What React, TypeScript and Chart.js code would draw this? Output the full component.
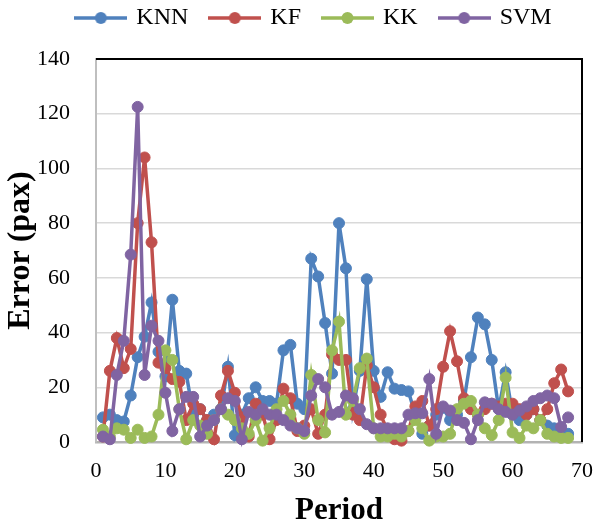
import React, { useEffect, useRef } from "react";
import { Chart, registerables } from "chart.js";

Chart.register(...registerables);

// ---- data ----
const PERIODS = [
  1, 2, 3, 4, 5, 6, 7, 8, 9, 10, 11, 12, 13, 14, 15, 16, 17, 18, 19, 20,
  21, 22, 23, 24, 25, 26, 27, 28, 29, 30, 31, 32, 33, 34, 35, 36, 37, 38, 39, 40,
  41, 42, 43, 44, 45, 46, 47, 48, 49, 50, 51, 52, 53, 54, 55, 56, 57, 58, 59, 60,
  61, 62, 63, 64, 65, 66, 67, 68,
];

const KNN = [
  9, 10, 8, 7.5, 17, 31, 38.5, 51, 33, 24,
  52, 26, 25, 10, 12, 8, 10, 12, 27.5, 2.5,
  10, 16, 20, 15, 15, 14, 33.5, 35.5, 14, 12,
  67, 60.5, 43.5, 25, 80, 63.5, 12, 26, 59.5, 26,
  16.5, 25.5, 19.5, 19, 18.5, 10, 3, 6, 10, 12.5,
  8, 10, 15, 31, 45.5, 43, 30, 12, 25.5, 10,
  8, 10, 12, 8, 6, 5, 4, 3,
];

const KF = [
  2, 26, 38, 27, 34, 80, 104, 73, 29, 27,
  23, 22, 8, 14, 12, 8, 1, 17, 26, 18,
  9, 2, 14, 10, 1, 8, 19.5, 16, 4, 6,
  12, 3, 10, 32, 30, 30, 10, 8, 28, 20,
  10, 4, 1, 0.5, 4, 13, 15, 6, 12, 27.5,
  40.5, 29.5, 16, 12, 10, 12, 14, 13, 14, 14,
  12, 10, 12, 8, 12, 21.5, 26.5, 18.5,
];

const KK = [
  4.5, 2, 5, 4.5, 1.5, 4.5, 1.5, 2, 10, 33.5,
  30, 12, 1, 8, 6, 3, 8, 12, 10, 8,
  5, 3, 8, 0.5, 5, 12, 15, 10, 5, 3,
  24.5, 8, 3.5, 33.5, 44, 10, 15, 27, 30.5, 5,
  2, 2, 3, 2, 4, 8, 5, 0.5, 2, 2,
  3, 12, 14, 15, 10, 5, 2.5, 8, 23.5, 3.5,
  1.5, 6, 5, 8, 3, 2, 1.5, 1.5,
];

const SVM = [
  2, 1, 24.5, 37, 68.5, 122.5, 24.5, 42.5, 37, 18,
  4, 12, 16.5, 16.5, 2, 6, 8, 12, 16, 15,
  1, 11, 10, 12, 10, 10, 8, 6, 5, 4,
  17, 23, 20, 10, 11, 17, 16, 12, 6.5, 5,
  5, 5, 5, 5, 10, 10.5, 10.5, 23, 3, 13,
  11.5, 8, 7, 1, 8, 14.5, 14, 12, 11, 10,
  11.5, 13, 15, 16, 17, 16, 5.5, 9,
];

const SERIES_NAMES = ["KNN", "KF", "KK", "SVM"];
const SERIES_VALUES = [KNN, KF, KK, SVM];
const SERIES_COLORS = ["#4F81BD", "#C0504D", "#9BBB59", "#8064A2"];

const X_MIN = 0;
const X_MAX = 70;
const X_STEP = 10;
const Y_MIN = 0;
const Y_MAX = 140;
const Y_STEP = 20;
const X_TITLE = "Period";
const Y_TITLE = "Error (pax)";

const FONT = "'Liberation Serif', 'Times New Roman', Times, serif";

function makeLegendIcon(color: string): HTMLCanvasElement {
  const c = document.createElement("canvas");
  c.width = 53;
  c.height = 14;
  const g = c.getContext("2d")!;
  g.strokeStyle = color;
  g.lineWidth = 3.5;
  g.beginPath();
  g.moveTo(0, 7);
  g.lineTo(53, 7);
  g.stroke();
  g.fillStyle = color;
  g.beginPath();
  g.arc(26.5, 7, 6, 0, Math.PI * 2);
  g.fill();
  return c;
}

export default function App() {
  const ref = useRef<HTMLCanvasElement>(null);

  useEffect(() => {
    document.body.style.margin = "0";
    if (!ref.current) return;

    const icons = SERIES_COLORS.map(makeLegendIcon);

    const datasets = SERIES_NAMES.map((name, si) => ({
      label: name,
      data: PERIODS.map((p, i) => ({ x: p, y: SERIES_VALUES[si][i] })),
      borderColor: SERIES_COLORS[si],
      backgroundColor: SERIES_COLORS[si],
      pointBackgroundColor: SERIES_COLORS[si],
      pointBorderColor: SERIES_COLORS[si],
      borderWidth: 3.5,
      pointRadius: 5.5,
      pointBorderWidth: 1,
      tension: 0,
      clip: false as any,
      order: SERIES_NAMES.length - si,
    }));

    const framePlugin = {
      id: "frame",
      beforeDatasetsDraw(chart: any) {
        const { ctx, chartArea } = chart;
        const { left, top, right, bottom } = chartArea;
        ctx.save();
        ctx.strokeStyle = "#000";
        ctx.lineWidth = 2;
        ctx.beginPath();
        ctx.moveTo(left, top);
        ctx.lineTo(right, top);
        ctx.lineTo(right, bottom);
        ctx.stroke();
        ctx.restore();
      },
    };

    const legendShift = {
      id: "legendShift",
      afterLayout(chart: any) {
        const l = chart.legend;
        if (l) {
          l.left += 21;
          l.right += 21;
          l.top -= 19;
          l.bottom -= 19;
        }
      },
    };

    const chart = new Chart(ref.current, {
      type: "line",
      data: { datasets: datasets as any },
      plugins: [framePlugin, legendShift],
      options: {
        responsive: false,
        animation: false,
        devicePixelRatio: 1,
        layout: { padding: { left: 5, right: 11, top: 2, bottom: 0 } },
        plugins: {
          tooltip: { enabled: false },
          legend: {
            position: "top",
            labels: {
              usePointStyle: true,
              pointStyleWidth: 47,
              padding: 23,
              color: "#000",
              font: { family: FONT, size: 24 },
              generateLabels: (ch: any) =>
                ch.data.datasets.map((ds: any, i: number) => ({
                  text: ds.label,
                  pointStyle: icons[i],
                  fillStyle: ds.borderColor,
                  strokeStyle: ds.borderColor,
                  lineWidth: 0,
                  hidden: false,
                  datasetIndex: i,
                  fontColor: "#000",
                })),
            },
          },
        },
        scales: {
          x: {
            type: "linear",
            min: X_MIN,
            max: X_MAX,
            afterFit: (s: any) => {
              s.height = 86;
              s.paddingRight = 0;
              s.paddingLeft = 0;
            },
            ticks: {
              stepSize: X_STEP,
              padding: 16,
              color: "#000",
              font: { family: FONT, size: 22 },
            },
            grid: { display: false, drawTicks: false },
            border: { display: true, color: "#b3b3b3", width: 2.5 },
            title: {
              display: true,
              text: X_TITLE,
              color: "#000",
              font: { family: FONT, size: 31, weight: "bold", lineHeight: 1 },
              padding: { top: 0, bottom: 1.5 },
            },
          },
          y: {
            type: "linear",
            min: Y_MIN,
            max: Y_MAX,
            afterFit: (s: any) => {
              s.width = 91;
            },
            ticks: {
              stepSize: Y_STEP,
              padding: 26,
              color: "#000",
              font: { family: FONT, size: 22 },
            },
            grid: { color: "#d9d9d9", lineWidth: 1.5, drawTicks: false },
            border: { display: true, color: "#bfbfbf", width: 2 },
            title: {
              display: true,
              text: Y_TITLE,
              color: "#000",
              font: { family: FONT, size: 32, weight: "bold", lineHeight: 1 },
              padding: { top: 0, bottom: 0 },
            },
          },
        },
      },
    });

    return () => chart.destroy();
  }, []);

  return <canvas ref={ref} width={593} height={528} style={{ display: "block" }} />;
}
